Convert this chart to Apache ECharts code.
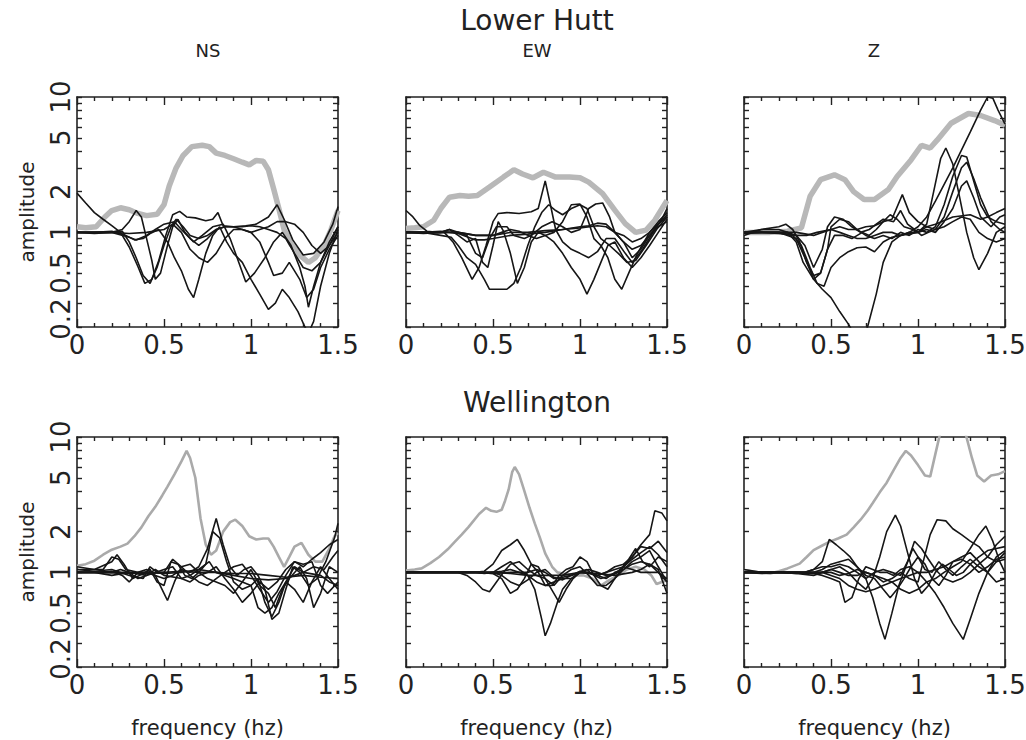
<!DOCTYPE html>
<html><head><meta charset="utf-8">
<script src="https://cdn.jsdelivr.net/npm/echarts@6/dist/echarts.min.js"></script>
<style>html,body{margin:0;padding:0;background:#fff}#c{width:1026px;height:740px}</style>
</head><body><div id="c"></div>
<script>
// ---------- data ----------
const stations = ['Lower Hutt', 'Wellington'];
const components = ['NS', 'EW', 'Z'];
const freqLabel = 'frequency (hz)';
const ampLabel = 'amplitude';
const ampLabels = [0.2, 0.5, 1, 2, 5, 10];
const ampTicks = [0.2,0.3,0.4,0.5,0.6,0.7,0.8,0.9,1,2,3,4,5,6,7,8,9,10];

// Lower Hutt NS
const lhNS_ref = [[0,1.1],[0.05,1.08],[0.11,1.1],[0.16,1.3],[0.2,1.45],[0.25,1.52],[0.3,1.47],[0.35,1.38],[0.4,1.33],[0.46,1.36],[0.5,1.6],[0.53,2.2],[0.57,3.0],[0.61,3.7],[0.66,4.3],[0.72,4.4],[0.76,4.3],[0.8,3.85],[0.85,3.7],[0.9,3.5],[0.95,3.3],[0.99,3.15],[1.03,3.4],[1.07,3.35],[1.1,2.9],[1.13,2.1],[1.16,1.5],[1.19,1.05],[1.23,0.82],[1.28,0.68],[1.33,0.6],[1.37,0.65],[1.42,0.8],[1.46,1.05],[1.5,1.45]];
const lhNS_runs = [
 [[0,1.95],[0.05,1.65],[0.1,1.4],[0.15,1.25],[0.2,1.12],[0.25,1.0],[0.3,0.78],[0.35,0.56],[0.39,0.42],[0.43,0.45],[0.47,0.62],[0.51,0.95],[0.55,1.35],[0.59,1.43],[0.63,1.3],[0.68,1.28],[0.74,1.22],[0.78,1.25],[0.81,1.4],[0.84,1.12],[0.9,1.1],[0.97,1.12],[1.03,1.15],[1.1,1.3],[1.15,1.6],[1.19,1.25],[1.24,0.88],[1.3,0.68],[1.36,0.7],[1.42,0.85],[1.47,1.15],[1.5,1.55]],
 [[0,1.0],[0.1,1.0],[0.2,1.0],[0.26,1.05],[0.3,1.2],[0.34,1.45],[0.37,1.3],[0.4,0.9],[0.43,0.62],[0.45,0.45],[0.48,0.5],[0.52,0.8],[0.55,1.1],[0.58,1.25],[0.62,1.0],[0.67,0.85],[0.72,0.95],[0.78,1.1],[0.84,1.15],[0.88,0.9],[0.93,0.6],[0.97,0.43],[1.02,0.5],[1.08,0.65],[1.13,0.85],[1.18,1.0],[1.23,0.8],[1.28,0.55],[1.31,0.4],[1.33,0.28],[1.36,0.4],[1.4,0.6],[1.45,0.85],[1.5,1.1]],
 [[0,1.0],[0.1,1.0],[0.2,1.02],[0.28,0.95],[0.33,0.88],[0.38,0.9],[0.42,0.98],[0.47,1.05],[0.52,0.85],[0.56,0.65],[0.6,0.52],[0.64,0.38],[0.67,0.33],[0.7,0.45],[0.74,0.7],[0.78,0.95],[0.82,1.1],[0.86,0.85],[0.9,0.7],[0.95,0.6],[1.0,0.45],[1.05,0.35],[1.1,0.27],[1.14,0.3],[1.18,0.38],[1.22,0.33],[1.27,0.26],[1.31,0.2],[1.33,0.18],[1.36,0.22],[1.4,0.4],[1.45,0.7],[1.5,1.05]],
 [[0,1.0],[0.1,1.0],[0.2,1.0],[0.3,0.92],[0.34,0.88],[0.4,0.95],[0.45,1.05],[0.5,1.15],[0.56,1.2],[0.6,1.05],[0.65,0.9],[0.7,0.8],[0.75,0.9],[0.8,1.05],[0.85,1.1],[0.9,1.1],[0.95,1.05],[1.0,1.0],[1.05,1.05],[1.1,1.1],[1.15,1.2],[1.2,1.2],[1.25,1.15],[1.3,1.0],[1.35,0.8],[1.4,0.7],[1.45,0.8],[1.5,1.0]],
 [[0,1.0],[0.1,0.98],[0.2,1.0],[0.26,1.02],[0.3,0.85],[0.34,0.65],[0.38,0.48],[0.42,0.42],[0.46,0.55],[0.5,0.8],[0.54,1.1],[0.57,1.25],[0.61,1.1],[0.65,0.95],[0.7,0.9],[0.75,0.95],[0.8,1.05],[0.85,1.1],[0.9,1.1],[0.95,1.1],[1.0,1.12],[1.05,1.1],[1.1,1.05],[1.15,1.0],[1.2,0.9],[1.25,0.7],[1.3,0.55],[1.35,0.52],[1.4,0.6],[1.45,0.8],[1.5,1.1]],
 [[0,1.0],[0.2,1.0],[0.3,0.98],[0.4,1.0],[0.5,1.05],[0.55,1.15],[0.6,1.0],[0.65,0.75],[0.7,0.65],[0.75,0.6],[0.8,0.7],[0.85,0.9],[0.9,1.05],[0.95,1.05],[1.0,1.0],[1.05,0.85],[1.1,0.6],[1.13,0.48],[1.18,0.5],[1.22,0.6],[1.28,0.45],[1.32,0.33],[1.36,0.38],[1.4,0.55],[1.45,0.75],[1.5,0.95]]
];

// Lower Hutt EW
const lhEW_ref = [[0,1.07],[0.05,1.08],[0.1,1.1],[0.16,1.23],[0.2,1.5],[0.25,1.82],[0.31,1.87],[0.36,1.85],[0.41,1.87],[0.48,2.16],[0.56,2.56],[0.62,2.9],[0.67,2.7],[0.73,2.53],[0.79,2.78],[0.86,2.56],[0.94,2.56],[1.0,2.53],[1.05,2.35],[1.13,1.93],[1.2,1.46],[1.26,1.16],[1.32,1.0],[1.38,1.04],[1.43,1.23],[1.5,1.72]];
const lhEW_runs = [
 [[0,1.45],[0.04,1.3],[0.08,1.12],[0.12,1.02],[0.18,1.0],[0.22,1.0],[0.27,0.85],[0.32,0.65],[0.38,0.45],[0.42,0.55],[0.46,0.8],[0.5,1.2],[0.53,1.38],[0.58,1.4],[0.65,1.38],[0.72,1.42],[0.76,1.5],[0.8,2.4],[0.83,1.6],[0.86,1.05],[0.9,0.85],[0.95,0.75],[1.0,0.7],[1.05,0.65],[1.1,0.72],[1.15,0.9],[1.2,0.9],[1.26,0.7],[1.3,0.6],[1.36,0.75],[1.42,1.0],[1.47,1.25],[1.5,1.5]],
 [[0,1.0],[0.1,1.0],[0.2,0.95],[0.26,0.92],[0.3,0.8],[0.35,0.65],[0.4,0.58],[0.45,0.45],[0.48,0.38],[0.52,0.38],[0.58,0.38],[0.62,0.42],[0.66,0.55],[0.7,0.8],[0.74,1.1],[0.78,1.4],[0.82,1.6],[0.86,1.45],[0.9,1.35],[0.95,1.5],[1.0,1.6],[1.04,1.5],[1.08,1.1],[1.12,0.9],[1.17,0.8],[1.22,0.7],[1.27,0.6],[1.32,0.62],[1.38,0.8],[1.44,1.05],[1.5,1.3]],
 [[0,1.0],[0.1,0.98],[0.2,1.0],[0.25,1.05],[0.3,0.95],[0.35,0.85],[0.4,0.9],[0.44,0.6],[0.47,0.55],[0.5,0.8],[0.53,1.2],[0.56,1.02],[0.6,0.7],[0.64,0.42],[0.68,0.55],[0.72,0.85],[0.76,1.0],[0.8,0.95],[0.85,1.0],[0.9,1.2],[0.95,1.6],[1.0,1.62],[1.04,1.3],[1.08,0.9],[1.12,0.8],[1.16,0.65],[1.2,0.45],[1.24,0.38],[1.28,0.5],[1.33,0.7],[1.4,1.0],[1.45,1.2],[1.5,1.4]],
 [[0,1.0],[0.1,1.0],[0.2,1.0],[0.3,1.0],[0.4,0.95],[0.5,0.95],[0.55,1.0],[0.6,1.05],[0.65,1.02],[0.7,0.95],[0.75,0.9],[0.8,0.95],[0.85,0.85],[0.9,0.7],[0.95,0.55],[1.0,0.45],[1.04,0.35],[1.08,0.45],[1.12,0.6],[1.16,0.8],[1.2,0.85],[1.25,0.65],[1.3,0.55],[1.35,0.65],[1.4,0.8],[1.45,1.0],[1.5,1.25]],
 [[0,1.0],[0.1,1.0],[0.2,1.02],[0.3,0.98],[0.4,0.88],[0.45,0.88],[0.5,0.9],[0.6,0.95],[0.7,0.97],[0.8,1.0],[0.9,1.05],[1.0,1.1],[1.05,1.12],[1.1,1.17],[1.15,1.15],[1.2,1.0],[1.25,0.85],[1.3,0.75],[1.35,0.8],[1.4,0.95],[1.45,1.1],[1.5,1.2]],
 [[0,1.0],[0.1,1.0],[0.2,1.0],[0.3,1.0],[0.4,0.95],[0.5,0.95],[0.6,1.0],[0.7,1.0],[0.8,1.03],[0.9,1.05],[1.0,1.08],[1.1,1.12],[1.15,1.1],[1.2,1.0],[1.25,0.95],[1.3,0.85],[1.35,0.9],[1.4,1.0],[1.45,1.15],[1.5,1.3]],
 [[0,1.0],[0.1,1.0],[0.2,1.0],[0.25,1.05],[0.3,1.0],[0.35,0.95],[0.4,0.7],[0.44,0.65],[0.48,0.9],[0.52,1.1],[0.58,1.1],[0.62,0.95],[0.68,0.9],[0.72,0.95],[0.78,1.1],[0.84,1.2],[0.9,1.1],[0.95,1.0],[1.0,1.05],[1.05,1.5],[1.09,1.62],[1.13,1.65],[1.17,1.3],[1.2,1.0],[1.25,0.85],[1.3,0.65],[1.35,0.75],[1.4,0.95],[1.45,1.15],[1.5,1.35]]
];

// Lower Hutt Z
const lhZ_ref = [[0,1.0],[0.08,1.0],[0.15,1.0],[0.25,1.02],[0.33,1.08],[0.38,1.85],[0.44,2.45],[0.52,2.66],[0.58,2.45],[0.63,2.0],[0.69,1.75],[0.75,1.75],[0.83,2.07],[0.88,2.59],[0.96,3.43],[1.02,4.4],[1.07,4.2],[1.11,4.8],[1.19,6.4],[1.29,7.55],[1.36,7.3],[1.44,6.7],[1.5,6.2]];
const lhZ_runs = [
 [[0,1.0],[0.1,1.0],[0.2,1.0],[0.25,1.0],[0.3,0.85],[0.34,0.6],[0.4,0.45],[0.45,0.38],[0.5,0.33],[0.55,0.26],[0.6,0.21],[0.63,0.18],[0.68,0.17],[0.71,0.2],[0.76,0.35],[0.8,0.6],[0.85,0.85],[0.9,0.95],[0.95,1.0],[1.0,1.1],[1.05,1.3],[1.1,1.7],[1.2,3.0],[1.3,5.5],[1.36,8.0],[1.4,10.0],[1.43,9.8],[1.46,8.0],[1.5,6.3]],
 [[0,1.0],[0.1,1.05],[0.2,1.1],[0.24,1.15],[0.28,1.05],[0.32,0.85],[0.36,0.6],[0.4,0.48],[0.44,0.5],[0.48,0.75],[0.52,0.95],[0.57,0.95],[0.62,0.9],[0.68,1.0],[0.72,0.95],[0.76,1.05],[0.8,1.2],[0.84,1.35],[0.88,1.25],[0.92,1.1],[0.97,1.05],[1.0,1.0],[1.05,1.15],[1.09,2.0],[1.13,3.5],[1.16,4.2],[1.2,3.2],[1.24,1.8],[1.28,1.0],[1.32,0.65],[1.35,0.53],[1.4,0.7],[1.45,1.0],[1.5,1.1]],
 [[0,1.0],[0.1,1.0],[0.2,1.0],[0.25,0.95],[0.3,0.9],[0.35,0.65],[0.4,0.45],[0.44,0.5],[0.48,0.75],[0.5,1.1],[0.55,1.25],[0.6,1.2],[0.65,1.05],[0.7,0.95],[0.75,0.9],[0.8,0.95],[0.85,0.9],[0.9,1.0],[0.95,0.95],[1.0,1.05],[1.05,1.0],[1.1,1.1],[1.15,1.6],[1.2,2.6],[1.25,3.7],[1.28,3.6],[1.32,2.4],[1.36,1.6],[1.4,1.3],[1.45,1.2],[1.5,1.15]],
 [[0,0.95],[0.05,1.0],[0.1,1.05],[0.2,1.05],[0.25,1.0],[0.3,0.95],[0.35,0.8],[0.4,0.55],[0.45,0.75],[0.48,1.1],[0.52,1.3],[0.57,1.25],[0.62,1.1],[0.67,1.0],[0.72,1.05],[0.76,1.15],[0.8,1.25],[0.86,1.2],[0.9,1.45],[0.94,1.15],[0.98,1.05],[1.02,0.95],[1.06,1.0],[1.1,1.05],[1.15,1.3],[1.2,2.0],[1.25,3.0],[1.28,3.3],[1.32,2.5],[1.36,1.8],[1.42,1.2],[1.47,1.05],[1.5,1.0]],
 [[0,0.98],[0.1,1.0],[0.2,1.0],[0.28,0.95],[0.33,0.8],[0.38,0.55],[0.42,0.42],[0.46,0.4],[0.5,0.55],[0.55,0.65],[0.6,0.72],[0.65,0.77],[0.7,0.78],[0.75,0.72],[0.8,0.85],[0.85,0.92],[0.9,0.95],[0.95,1.0],[1.0,1.0],[1.05,1.05],[1.1,1.0],[1.15,1.2],[1.2,1.5],[1.25,2.2],[1.28,2.4],[1.32,1.8],[1.36,1.3],[1.42,1.1],[1.47,1.3],[1.5,1.35]],
 [[0,1.0],[0.1,1.0],[0.2,0.98],[0.3,0.95],[0.36,0.95],[0.42,1.0],[0.5,1.05],[0.55,1.0],[0.6,0.95],[0.65,0.9],[0.7,0.9],[0.75,0.95],[0.8,1.0],[0.85,1.0],[0.9,0.95],[1.0,1.0],[1.05,1.1],[1.1,1.15],[1.2,1.3],[1.3,1.35],[1.36,1.25],[1.4,1.3],[1.45,1.4],[1.5,1.5]],
 [[0,1.0],[0.1,1.0],[0.2,1.0],[0.3,1.0],[0.4,0.95],[0.45,1.0],[0.5,1.05],[0.55,1.1],[0.6,1.05],[0.65,1.05],[0.7,1.1],[0.75,1.12],[0.8,1.2],[0.85,1.25],[0.91,1.9],[0.95,1.4],[1.0,1.2],[1.05,1.1],[1.1,1.05],[1.15,1.1],[1.2,1.2],[1.25,1.3],[1.3,1.25],[1.35,1.0],[1.4,0.9],[1.45,0.85],[1.5,0.9]]
];

// Wellington NS
const wgNS_ref = [[0,1.12],[0.05,1.15],[0.1,1.22],[0.15,1.35],[0.2,1.47],[0.25,1.55],[0.29,1.63],[0.33,1.85],[0.37,2.15],[0.41,2.6],[0.45,3.05],[0.49,3.7],[0.52,4.3],[0.56,5.3],[0.6,6.6],[0.63,7.9],[0.65,7.0],[0.68,5.0],[0.71,2.5],[0.74,1.6],[0.77,1.35],[0.8,1.45],[0.84,2.0],[0.88,2.35],[0.91,2.45],[0.95,2.2],[0.99,1.85],[1.03,1.75],[1.07,1.78],[1.1,1.78],[1.13,1.55],[1.16,1.3],[1.19,1.1],[1.22,1.3],[1.25,1.55],[1.29,1.65],[1.33,1.35],[1.37,1.2],[1.41,1.2],[1.45,1.5],[1.48,1.85],[1.5,1.95]];
const wgNS_runs = [
 [[0,1.1],[0.1,1.05],[0.15,1.05],[0.2,1.3],[0.24,1.25],[0.28,1.05],[0.35,1.0],[0.4,1.0],[0.45,0.95],[0.5,0.9],[0.55,0.95],[0.6,1.05],[0.65,1.0],[0.7,1.1],[0.75,1.5],[0.8,2.5],[0.84,1.6],[0.88,1.1],[0.92,0.95],[0.96,1.05],[1.0,1.1],[1.04,0.95],[1.08,0.75],[1.12,0.45],[1.16,0.5],[1.2,0.75],[1.24,1.1],[1.28,1.0],[1.33,0.8],[1.38,0.9],[1.43,1.2],[1.48,1.8],[1.5,2.3]],
 [[0,1.05],[0.1,1.05],[0.2,1.2],[0.23,1.35],[0.27,1.15],[0.32,0.9],[0.36,0.95],[0.42,1.05],[0.46,0.85],[0.5,0.8],[0.54,1.2],[0.58,1.15],[0.62,0.95],[0.66,0.9],[0.7,1.0],[0.74,1.15],[0.78,2.0],[0.82,1.8],[0.86,1.2],[0.9,0.85],[0.95,0.75],[1.0,0.8],[1.04,0.9],[1.08,0.6],[1.12,0.47],[1.16,0.6],[1.2,0.85],[1.25,1.1],[1.3,1.0],[1.36,1.1],[1.42,1.05],[1.47,1.3],[1.5,1.45]],
 [[0,1.0],[0.1,1.0],[0.2,1.02],[0.26,0.95],[0.3,0.85],[0.35,1.0],[0.4,1.05],[0.45,0.95],[0.5,0.7],[0.52,0.62],[0.56,0.85],[0.6,1.1],[0.65,1.15],[0.7,1.0],[0.75,0.9],[0.8,0.85],[0.85,0.8],[0.9,0.7],[0.95,0.85],[1.0,0.8],[1.04,0.55],[1.08,0.5],[1.12,0.55],[1.16,0.7],[1.2,0.85],[1.25,0.75],[1.3,0.6],[1.35,0.85],[1.4,1.1],[1.45,0.9],[1.5,0.75]],
 [[0,1.0],[0.1,1.0],[0.2,1.0],[0.3,1.0],[0.4,0.98],[0.5,1.0],[0.6,1.02],[0.7,1.0],[0.8,1.0],[0.9,0.98],[1.0,0.98],[1.1,0.95],[1.2,0.92],[1.3,0.95],[1.4,0.92],[1.5,0.9]],
 [[0,1.05],[0.1,1.02],[0.2,1.05],[0.3,0.95],[0.38,0.9],[0.42,1.1],[0.46,1.0],[0.5,1.0],[0.55,1.25],[0.6,1.1],[0.65,0.95],[0.7,0.85],[0.75,0.8],[0.8,0.9],[0.85,1.0],[0.9,1.1],[0.95,1.15],[1.0,0.95],[1.05,0.75],[1.1,0.6],[1.15,0.72],[1.2,0.95],[1.25,1.2],[1.3,1.15],[1.35,1.2],[1.4,0.8],[1.44,0.7],[1.5,0.85]],
 [[0,1.0],[0.1,1.0],[0.2,0.95],[0.3,1.0],[0.4,0.95],[0.45,1.05],[0.5,0.95],[0.6,0.9],[0.65,0.95],[0.7,1.05],[0.76,1.2],[0.8,1.0],[0.85,0.95],[0.9,0.9],[0.95,0.85],[1.0,1.05],[1.05,0.8],[1.1,0.7],[1.14,0.55],[1.18,0.75],[1.22,0.9],[1.28,1.1],[1.32,0.9],[1.36,0.55],[1.4,0.7],[1.45,1.1],[1.5,1.0]],
 [[0,1.0],[0.15,1.0],[0.3,0.98],[0.4,1.0],[0.5,0.98],[0.6,1.0],[0.7,1.05],[0.8,1.0],[0.9,0.95],[1.0,0.9],[1.1,0.88],[1.2,0.9],[1.3,1.0],[1.4,0.95],[1.45,0.85],[1.5,0.8]],
 [[0,1.0],[0.1,1.0],[0.2,1.0],[0.25,1.05],[0.3,1.0],[0.35,0.9],[0.4,0.95],[0.5,1.05],[0.55,1.1],[0.6,0.9],[0.65,0.85],[0.7,0.95],[0.75,1.0],[0.8,1.1],[0.85,0.9],[0.9,0.75],[0.95,0.6],[1.0,0.7],[1.05,0.85],[1.1,0.75],[1.15,0.85],[1.2,1.05],[1.25,1.2],[1.3,1.1],[1.35,1.25],[1.4,1.4],[1.45,1.6],[1.5,1.75]]
];

// Wellington EW
const wgEW_ref = [[0,1.03],[0.05,1.05],[0.09,1.07],[0.14,1.17],[0.19,1.3],[0.24,1.48],[0.28,1.68],[0.32,1.9],[0.36,2.17],[0.42,2.7],[0.46,3.0],[0.49,2.85],[0.52,2.8],[0.55,2.9],[0.57,3.4],[0.59,4.1],[0.61,5.5],[0.625,6.0],[0.65,5.3],[0.68,4.0],[0.71,3.0],[0.74,2.3],[0.77,1.8],[0.8,1.38],[0.84,1.1],[0.87,1.0],[0.92,0.97],[0.97,0.95],[1.02,0.95],[1.07,0.9],[1.12,0.8],[1.17,0.88],[1.22,0.95],[1.27,1.05],[1.32,1.1],[1.37,1.05],[1.41,0.95],[1.44,0.82],[1.47,0.85],[1.5,0.87]];
const wgEW_runs = [
 [[0,1.0],[0.1,1.0],[0.2,1.0],[0.3,1.0],[0.4,1.0],[0.45,1.0],[0.5,1.0],[0.55,1.02],[0.6,1.05],[0.65,1.0],[0.7,0.95],[0.74,0.75],[0.78,0.45],[0.8,0.34],[0.83,0.42],[0.87,0.6],[0.9,0.75],[0.95,0.9],[1.0,1.0],[1.05,1.0],[1.1,0.95],[1.15,1.0],[1.2,1.1],[1.25,1.15],[1.3,1.3],[1.35,1.6],[1.4,1.9],[1.43,2.85],[1.47,2.75],[1.5,2.4]],
 [[0,1.0],[0.1,1.0],[0.2,1.0],[0.3,1.0],[0.35,1.0],[0.4,1.0],[0.45,1.02],[0.5,1.15],[0.55,1.45],[0.6,1.6],[0.64,1.75],[0.68,1.45],[0.72,1.15],[0.76,1.0],[0.8,0.8],[0.84,0.8],[0.88,0.95],[0.92,1.05],[0.96,1.1],[1.0,1.3],[1.04,1.2],[1.08,0.95],[1.12,0.8],[1.16,0.75],[1.2,0.9],[1.25,1.1],[1.3,1.3],[1.35,1.55],[1.4,1.5],[1.45,1.7],[1.5,1.4]],
 [[0,1.0],[0.1,1.0],[0.2,1.0],[0.3,1.0],[0.35,0.95],[0.4,0.85],[0.44,0.75],[0.48,0.72],[0.52,0.85],[0.56,1.0],[0.6,1.15],[0.65,1.2],[0.7,1.05],[0.75,0.95],[0.8,0.9],[0.85,0.8],[0.9,0.95],[0.95,1.05],[1.0,1.1],[1.05,0.95],[1.1,0.8],[1.15,0.8],[1.2,0.9],[1.25,1.05],[1.3,1.2],[1.35,1.3],[1.4,1.45],[1.45,1.1],[1.5,0.85]],
 [[0,1.0],[0.1,1.0],[0.2,1.0],[0.3,1.0],[0.4,1.0],[0.5,0.98],[0.55,0.9],[0.6,0.7],[0.64,0.75],[0.68,0.9],[0.72,1.15],[0.76,1.1],[0.8,0.9],[0.85,0.7],[0.88,0.6],[0.92,0.75],[0.96,0.9],[1.0,1.0],[1.04,1.05],[1.08,0.95],[1.12,0.9],[1.18,0.95],[1.22,1.0],[1.28,1.25],[1.32,1.5],[1.36,1.2],[1.4,1.1],[1.45,1.3],[1.5,1.2]],
 [[0,1.0],[0.1,1.0],[0.2,1.0],[0.3,1.0],[0.4,1.0],[0.5,1.0],[0.55,1.1],[0.6,1.2],[0.65,1.05],[0.7,0.95],[0.75,0.85],[0.8,0.8],[0.85,0.85],[0.9,0.9],[0.95,0.9],[1.0,1.0],[1.05,0.98],[1.1,0.95],[1.15,0.9],[1.2,1.0],[1.25,1.05],[1.3,1.15],[1.35,1.2],[1.4,1.15],[1.45,1.0],[1.5,0.9]],
 [[0,1.0],[0.1,1.0],[0.2,1.0],[0.3,1.0],[0.4,1.0],[0.5,0.98],[0.6,1.0],[0.7,1.0],[0.75,1.05],[0.8,1.0],[0.85,0.9],[0.9,0.92],[0.95,0.95],[1.0,1.0],[1.05,1.0],[1.1,0.95],[1.15,1.0],[1.2,1.05],[1.25,1.1],[1.3,1.05],[1.35,1.0],[1.4,1.0],[1.45,1.0],[1.5,0.85]],
 [[0,1.0],[0.1,1.0],[0.2,1.0],[0.3,1.0],[0.4,1.0],[0.45,0.98],[0.5,1.0],[0.55,0.95],[0.6,0.85],[0.65,0.8],[0.7,0.88],[0.75,1.0],[0.8,1.05],[0.85,0.92],[0.9,0.88],[0.95,0.95],[1.0,1.02],[1.05,1.05],[1.1,1.0],[1.15,0.95],[1.2,0.98],[1.25,1.1],[1.3,1.25],[1.35,1.4],[1.4,1.55],[1.45,1.35],[1.5,1.1]],
 [[0,1.0],[0.1,1.0],[0.2,1.0],[0.3,1.0],[0.4,1.0],[0.5,1.0],[0.6,0.98],[0.7,0.95],[0.8,0.95],[0.85,0.95],[0.9,0.95],[1.0,1.0],[1.1,0.98],[1.2,0.95],[1.3,1.0],[1.35,1.05],[1.4,1.15],[1.45,1.05],[1.5,0.7]]
];

// Wellington Z
const wgZ_ref = [[0,1.04],[0.08,1.0],[0.15,0.98],[0.2,1.02],[0.25,1.07],[0.32,1.16],[0.36,1.3],[0.4,1.46],[0.45,1.58],[0.49,1.68],[0.54,1.78],[0.59,1.9],[0.63,2.15],[0.67,2.45],[0.71,2.85],[0.74,3.25],[0.78,3.9],[0.82,4.6],[0.86,5.7],[0.9,7.0],[0.93,7.9],[0.96,7.3],[1.0,6.2],[1.04,5.2],[1.07,5.1],[1.1,7.5],[1.13,11],[1.2,13],[1.27,11],[1.31,7.0],[1.34,5.2],[1.38,4.7],[1.42,5.2],[1.46,5.3],[1.5,5.6]];
const wgZ_runs = [
 [[0,1.05],[0.1,1.0],[0.2,1.0],[0.3,0.98],[0.35,1.0],[0.4,1.05],[0.45,1.2],[0.49,1.75],[0.53,1.6],[0.57,1.45],[0.61,1.3],[0.65,1.1],[0.7,0.95],[0.75,0.9],[0.8,0.75],[0.84,0.65],[0.88,0.75],[0.92,0.9],[0.96,1.1],[1.0,1.3],[1.04,1.15],[1.08,0.9],[1.12,0.8],[1.16,0.95],[1.2,1.2],[1.25,1.3],[1.3,1.4],[1.35,1.2],[1.4,1.0],[1.45,0.85],[1.5,0.9]],
 [[0,1.0],[0.1,1.0],[0.2,1.0],[0.3,1.0],[0.4,0.98],[0.45,1.0],[0.5,1.05],[0.55,1.1],[0.6,1.0],[0.65,0.85],[0.7,0.75],[0.74,0.9],[0.78,1.3],[0.82,2.0],[0.87,2.65],[0.9,2.2],[0.94,1.4],[0.98,0.9],[1.02,0.7],[1.06,0.8],[1.1,1.0],[1.14,1.15],[1.18,1.05],[1.22,0.95],[1.26,1.0],[1.3,1.15],[1.35,1.3],[1.4,1.45],[1.45,1.5],[1.5,1.55]],
 [[0,1.0],[0.1,1.0],[0.2,1.0],[0.3,1.0],[0.4,1.0],[0.45,1.05],[0.5,1.15],[0.55,1.2],[0.6,1.25],[0.65,1.1],[0.7,0.9],[0.74,0.65],[0.78,0.42],[0.81,0.32],[0.85,0.5],[0.89,0.8],[0.93,1.1],[0.97,1.5],[1.0,1.3],[1.04,1.05],[1.08,1.0],[1.12,1.2],[1.16,1.05],[1.2,0.95],[1.25,1.1],[1.3,1.25],[1.35,1.1],[1.4,1.0],[1.45,1.2],[1.5,1.4]],
 [[0,1.0],[0.1,1.0],[0.2,1.0],[0.3,1.0],[0.4,1.0],[0.45,1.0],[0.5,1.0],[0.55,0.95],[0.6,0.98],[0.65,1.05],[0.7,1.0],[0.75,0.95],[0.8,0.85],[0.85,0.9],[0.9,1.0],[0.95,0.9],[1.0,0.85],[1.03,1.2],[1.07,1.9],[1.11,2.45],[1.16,2.4],[1.2,2.1],[1.25,1.9],[1.3,1.7],[1.35,1.55],[1.4,1.3],[1.45,1.2],[1.5,1.25]],
 [[0,1.0],[0.1,1.0],[0.2,1.0],[0.3,1.0],[0.4,0.98],[0.45,0.95],[0.5,0.9],[0.55,0.85],[0.58,0.6],[0.62,0.65],[0.66,0.9],[0.7,1.1],[0.74,1.05],[0.78,1.0],[0.82,1.0],[0.86,0.95],[0.9,1.05],[0.95,1.1],[1.0,1.0],[1.05,0.85],[1.1,0.7],[1.15,0.55],[1.2,0.42],[1.26,0.32],[1.3,0.45],[1.35,0.7],[1.4,1.0],[1.45,1.3],[1.5,1.45]],
 [[0,1.0],[0.1,1.0],[0.2,1.0],[0.3,1.0],[0.4,1.0],[0.45,1.0],[0.5,0.95],[0.55,0.9],[0.6,0.8],[0.65,0.75],[0.7,0.72],[0.75,0.75],[0.8,0.8],[0.85,0.85],[0.9,0.75],[0.95,0.7],[1.0,0.75],[1.05,0.85],[1.1,0.9],[1.15,1.0],[1.2,1.1],[1.25,1.2],[1.3,1.5],[1.35,1.9],[1.39,2.2],[1.43,1.7],[1.47,1.2],[1.5,1.0]],
 [[0,1.0],[0.1,1.0],[0.2,1.0],[0.3,1.0],[0.35,1.0],[0.4,1.05],[0.45,1.1],[0.5,1.1],[0.55,1.15],[0.6,1.1],[0.65,1.0],[0.7,0.9],[0.75,1.0],[0.8,1.05],[0.85,1.0],[0.9,0.95],[0.94,1.2],[0.98,1.7],[1.02,1.5],[1.06,1.25],[1.1,1.05],[1.15,0.9],[1.2,0.85],[1.25,0.9],[1.3,1.0],[1.35,1.15],[1.4,1.3],[1.45,1.6],[1.5,1.85]],
 [[0,1.0],[0.1,0.98],[0.2,1.0],[0.3,0.98],[0.4,0.95],[0.45,1.0],[0.5,1.05],[0.55,1.0],[0.6,0.95],[0.65,0.95],[0.7,1.0],[0.75,0.95],[0.8,0.9],[0.85,0.85],[0.9,0.9],[0.95,0.95],[1.0,1.0],[1.05,1.0],[1.1,1.05],[1.15,1.1],[1.2,1.2],[1.25,1.25],[1.3,1.15],[1.35,1.0],[1.4,1.1],[1.45,1.25],[1.5,1.3]]
];

// ---------- chart ----------
const panels = [
  {ref: lhNS_ref, runs: lhNS_runs}, {ref: lhEW_ref, runs: lhEW_runs}, {ref: lhZ_ref, runs: lhZ_runs},
  {ref: wgNS_ref, runs: wgNS_runs}, {ref: wgEW_ref, runs: wgEW_runs}, {ref: wgZ_ref, runs: wgZ_runs}
];
const font = 'DejaVu Sans';
const ink = '#222';
const colLeft = [77, 406, 744], rowTop = [97, 437], W = 261, H = 230;
const lg = v => Math.log10(v);
const lo = lg(0.2), hi = lg(10);
const fmtAmp = v => {
  const s = String(+Math.pow(10, v).toPrecision(2));
  return Math.abs(v - lo) < 1e-6 ? '{lift|' + s + '}' : s;
};

const grid = [], xAxis = [], yAxis = [], series = [];
panels.forEach((p, i) => {
  const row = Math.floor(i / 3), col = i % 3;
  grid.push({left: colLeft[col], top: rowTop[row], width: W, height: H, containLabel: false, outerBoundsMode: 'none'});
  const axLine = {show: true, onZero: false, lineStyle: {color: ink, width: 1.6}};
  const xBase = {
    gridIndex: i, type: 'value', min: 0, max: 1.5, interval: 0.5,
    axisLine: axLine,
    axisTick: {show: true, inside: true, length: 8, lineStyle: {color: ink, width: 1.4}},
    minorTick: {show: true, splitNumber: 5, length: 4, lineStyle: {color: ink, width: 1.4}},
    splitLine: {show: false}, minorSplitLine: {show: false}
  };
  xAxis.push(Object.assign({}, xBase, {
    position: 'bottom',
    axisLabel: {show: true, fontSize: 26, fontFamily: font, color: ink, margin: 5},
    name: row === 1 ? freqLabel : '', nameLocation: 'middle', nameGap: 50,
    nameTextStyle: {fontSize: 21, fontFamily: font, color: ink}
  }));
  xAxis.push(Object.assign({}, xBase, {position: 'top', axisLabel: {show: false}}));
  // data axis (true log scale)
  yAxis.push({
    gridIndex: i, type: 'log', logBase: 10, min: 0.2, max: 10, position: 'left',
    axisLine: axLine, axisTick: {show: false}, axisLabel: {show: false},
    splitLine: {show: false}
  });
  // tick / label axes in log units
  const tickDef = {show: true, inside: true, length: 5, customValues: ampTicks.map(lg), lineStyle: {color: ink, width: 1.4}};
  yAxis.push({
    gridIndex: i, type: 'value', min: lo, max: hi, position: 'left',
    axisLine: {show: false, onZero: false}, axisTick: tickDef,
    axisLabel: {show: col === 0, customValues: ampLabels.map(lg), formatter: fmtAmp, rotate: 90,
                fontSize: 26, fontFamily: font, color: ink, margin: 3,
                rich: {lift: {fontSize: 26, fontFamily: font, color: ink, padding: [0, 0, 0, 16]}}},
    splitLine: {show: false},
    name: col === 0 ? ampLabel : '', nameLocation: 'middle', nameRotate: 90, nameGap: 40,
    nameTextStyle: {fontSize: 20, fontFamily: font, color: ink}
  });
  yAxis.push({
    gridIndex: i, type: 'value', min: lo, max: hi, position: 'right',
    axisLine: axLine, axisTick: tickDef, axisLabel: {show: false}, splitLine: {show: false}
  });
  series.push({
    type: 'line', xAxisIndex: 2 * i, yAxisIndex: 3 * i, data: p.ref, showSymbol: false, symbol: 'none',
    clip: true, z: 1, silent: true,
    lineStyle: {color: row === 0 ? '#b8b8b8' : '#aaaaaa', width: row === 0 ? 5.5 : 2.6}
  });
  p.runs.forEach(r => series.push({
    type: 'line', xAxisIndex: 2 * i, yAxisIndex: 3 * i, data: r, showSymbol: false, symbol: 'none',
    clip: true, z: 2, silent: true, lineStyle: {color: '#161616', width: 1.6}
  }));
});

const txt = (t, x, y, size) => ({type: 'text', x: x, y: y, silent: true,
  style: {text: t, font: size + 'px "' + font + '"', fill: ink, textAlign: 'center', textVerticalAlign: 'middle'}});
const graphic = [
  txt(stations[0], 537, 20, 28), txt(stations[1], 537, 402, 28),
  txt(components[0], 208, 50, 18), txt(components[1], 537, 50, 18), txt(components[2], 874, 50, 18)
];

const chart = echarts.init(document.getElementById('c'), null, {renderer: 'svg', width: 1026, height: 740});
chart.setOption({animation: false, backgroundColor: '#fff', grid, xAxis, yAxis, series, graphic});
</script></body></html>
